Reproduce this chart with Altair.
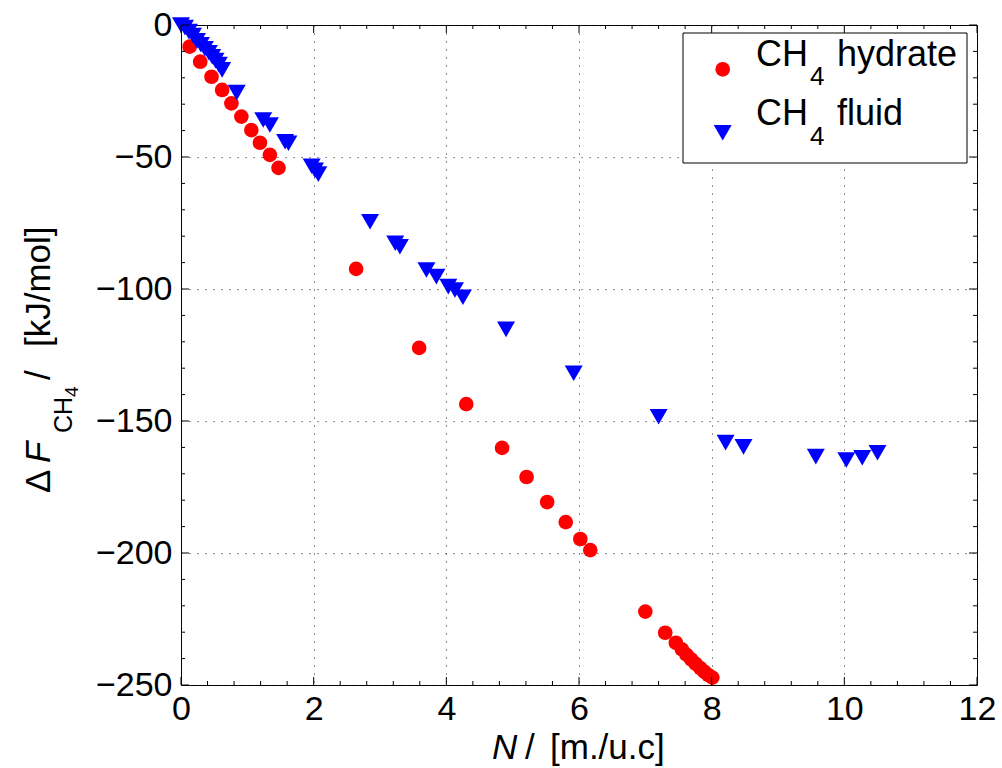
import altair as alt
import pandas as pd

# ---- data ----
hyd_x = [0.13, 0.29, 0.46, 0.62, 0.76, 0.91, 1.06, 1.19, 1.34, 1.47,
         2.64, 3.59, 4.30, 4.84, 5.21, 5.52, 5.80, 6.02, 6.17,
         7.00, 7.30, 7.46, 7.55, 7.62, 7.69, 7.76, 7.83, 7.89, 7.95, 8.01]
hyd_y = [-8.2, -13.9, -19.6, -24.6, -29.7, -34.7, -39.8, -44.6, -49.2, -54.1,
         -92.4, -122.3, -143.6, -160.2, -171.2, -180.7, -188.3, -194.7, -198.9,
         -222.2, -230.2, -234.0, -236.5, -238.5, -240.3, -242.0, -243.6, -245.0, -246.2, -247.2]

flu_x = [0.0, 0.06, 0.12, 0.18, 0.24, 0.30, 0.36, 0.42, 0.47, 0.52, 0.57, 0.62,
         0.84, 1.24, 1.34, 1.57, 1.62, 1.97, 2.02, 2.07,
         2.85, 3.23, 3.30, 3.70, 3.85, 4.03, 4.13, 4.25,
         4.90, 5.92, 7.20, 8.21, 8.48, 9.57, 10.03, 10.27, 10.50]
flu_y = [0.0, -1.0, -2.5, -4.0, -6.0, -7.5, -9.0, -10.5, -12.0, -13.5, -15.0, -17.0,
         -25.6, -36.0, -37.9, -44.2, -44.8, -53.5, -55.0, -56.5,
         -74.5, -82.7, -84.0, -92.8, -95.3, -99.1, -100.4, -103.1,
         -115.3, -131.9, -148.4, -158.2, -159.8, -163.5, -164.8, -163.9, -162.0]

x_major = [0, 2, 4, 6, 8, 10, 12]
x_minor = [0.4, 0.8, 1.2, 1.6, 2.4, 2.8, 3.2, 3.6, 4.4, 4.8, 5.2, 5.6,
           6.4, 6.8, 7.2, 7.6, 8.4, 8.8, 9.2, 9.6, 10.4, 10.8, 11.2, 11.6]
y_major = [-250, -200, -150, -100, -50, 0]
y_minor = [-240, -230, -220, -210, -190, -180, -170, -160, -140, -130, -120, -110,
           -90, -80, -70, -60, -40, -30, -20, -10]

legend_labels = ["CH", "4", "hydrate", "fluid"]

# ---- layout ----
W, H = 796, 660
FONT = "Liberation Sans"
FS = 34      # tick labels
TS = 35      # titles
LS = 36      # legend
MAJ, MIN = 8, 4

x_scale = alt.Scale(domain=[0, 12], nice=False, zero=False)
y_scale = alt.Scale(domain=[-250, 0], nice=False, zero=False)

x_axis = alt.Axis(values=x_major, grid=True, gridDash=[1, 7], gridColor="#222222",
                  gridOpacity=1, gridWidth=1, ticks=False, domain=False,
                  labelFontSize=FS, labelFont=FONT, labelColor="black",
                  labelPadding=7, title=None, format="d", labelFlush=False)
y_axis = alt.Axis(values=y_major, grid=True, gridDash=[1, 7], gridColor="#222222",
                  gridOpacity=1, gridWidth=1, ticks=False, domain=False,
                  labelFontSize=FS, labelFont=FONT, labelColor="black",
                  labelPadding=9, title=None, format="d", labelFlush=False)


def X(field="x"):
    return alt.X(f"{field}:Q", scale=x_scale, axis=x_axis)


def Y(field="y"):
    return alt.Y(f"{field}:Q", scale=y_scale, axis=y_axis)


df_h = pd.DataFrame({"x": hyd_x, "y": hyd_y})
df_f = pd.DataFrame({"x": flu_x, "y": flu_y})

hyd = alt.Chart(df_h).mark_point(shape="circle", filled=True, color="#FF0000",
                                 size=215, opacity=1, strokeWidth=0).encode(x=X(), y=Y())
flu = alt.Chart(df_f).mark_point(shape="triangle-down", filled=True, color="#0000FF",
                                 size=324, opacity=1, strokeWidth=0).encode(x=X(), y=Y())


def xticks(vals, y0, y1):
    return alt.Chart(pd.DataFrame({"x": vals})).mark_rule(color="black", strokeWidth=1).encode(
        x=X(), y=alt.value(y0), y2=alt.value(y1))


def yticks(vals, x0, x1):
    return alt.Chart(pd.DataFrame({"y": vals})).mark_rule(color="black", strokeWidth=1).encode(
        y=Y(), x=alt.value(x0), x2=alt.value(x1))


tick_layers = [
    xticks(x_major, H, H - MAJ), xticks(x_major, 0, MAJ),
    xticks(x_minor, H, H - MIN), xticks(x_minor, 0, MIN),
    yticks(y_major, 0, MAJ), yticks(y_major, W, W - MAJ),
    yticks(y_minor, 0, MIN), yticks(y_minor, W, W - MIN),
]

one = pd.DataFrame({"a": [0]})


def txt(s, x, y, size=TS, angle=0, italic=False):
    return alt.Chart(one).mark_text(
        text=s, font=FONT, fontSize=size, align="left", baseline="alphabetic",
        angle=angle, color="black", fontStyle="italic" if italic else "normal"
    ).encode(x=alt.value(x), y=alt.value(y))


# axis titles (x: "N / [m./u.c]", y: "Δ F_CH4 / [kJ/mol]")
titles = [
    txt("N", 311, 734, italic=True),
    txt("/", 344, 734),
    txt("[m./u.c]", 369, 734),
    txt("Δ", -131, 468, angle=270),
    txt("F", -131, 438, angle=270, italic=True),
    txt("CH", -109, 408, size=25, angle=270),
    txt("4", -103, 372, size=19, angle=270),
    txt("/", -131, 355, angle=270),
    txt("[kJ/mol]", -131, 322, angle=270),
]

# custom legend
leg_box = alt.Chart(one).mark_rect(fill="white", stroke="black", strokeWidth=1).encode(
    x=alt.value(502), x2=alt.value(786), y=alt.value(8), y2=alt.value(138))
leg_c = alt.Chart(one).mark_point(shape="circle", filled=True, color="#FF0000",
                                  size=215, opacity=1, strokeWidth=0).encode(
    x=alt.value(541.7), y=alt.value(44.3))
leg_t = alt.Chart(one).mark_point(shape="triangle-down", filled=True, color="#0000FF",
                                  size=324, opacity=1, strokeWidth=0).encode(
    x=alt.value(541.7), y=alt.value(107.7))
leg_text = [
    txt(legend_labels[0], 575, 41, size=LS), txt(legend_labels[1], 629, 60, size=26),
    txt(legend_labels[2], 656, 41, size=LS),
    txt(legend_labels[0], 575, 100, size=LS), txt(legend_labels[1], 629, 120, size=26),
    txt(legend_labels[3], 656, 100, size=LS),
]

chart = alt.layer(
    hyd, flu, *tick_layers, *titles, leg_box, leg_c, leg_t, *leg_text
).properties(
    width=W, height=H,
    padding={"left": 181, "top": 25, "right": 25, "bottom": 83},
    autosize=alt.AutoSizeParams(type="none"),
    background="white",
).configure_view(stroke="black", strokeWidth=1)

chart.save("out.html", embed_options={"renderer": "svg", "actions": False})
